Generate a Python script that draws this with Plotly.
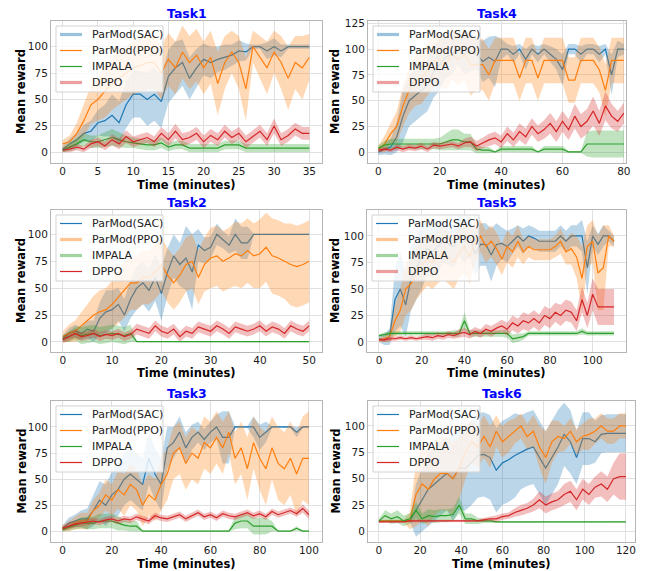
import plotly.graph_objects as go

W, H = 645, 571
SERIES = ["ParMod(SAC)", "ParMod(PPO)", "IMPALA", "DPPO"]
COLORS = ["#1f77b4", "#ff7f0e", "#2ca02c", "#d62728"]
FILLS = ["rgba(31,119,180,0.3)", "rgba(255,127,14,0.3)", "rgba(44,160,44,0.3)", "rgba(214,39,40,0.3)"]
LEGFADE = ["rgba(31,119,180,0.45)", "rgba(255,127,14,0.45)", "rgba(44,160,44,0.45)", "rgba(214,39,40,0.45)"]

# ---------------- Task1 ----------------
T1_X = list(range(0, 36))
T1_SAC = [3,8,12,18,20,28,30,35,28,45,55,55,50,55,48,72,80,85,70,80,88,85,88,90,92,96,95,100,100,96,100,96,100,100,100,100]
T1_SAC_S = [3,5,6,8,10,12,15,20,20,22,22,22,25,25,25,25,25,22,20,18,15,15,12,12,10,10,8,2,2,8,8,6,2,2,2,2]
T1_PPO = [8,10,18,30,45,50,58,65,70,75,80,82,85,85,75,88,80,95,85,92,80,90,65,85,95,85,60,100,90,80,95,85,70,85,80,90]
T1_PPO_S = [4,6,10,15,18,20,25,25,25,25,25,25,25,25,25,25,25,25,25,25,25,25,30,25,20,25,30,15,20,25,20,25,30,25,30,22]
T1_IMP = [2,5,8,12,10,10,12,14,12,10,9,8,7,7,9,5,7,7,4,4,4,4,4,7,7,7,4,4,4,4,4,4,4,4,4,4]
T1_IMP_S = [2,4,5,6,6,6,7,8,7,6,5,5,5,5,5,4,4,4,4,4,4,4,4,4,4,4,4,4,4,4,4,4,4,4,4,4]
T1_DPPO = [2,3,5,3,8,10,6,12,8,15,10,12,14,10,18,12,20,12,14,18,10,16,12,20,14,18,10,15,20,12,25,12,16,22,18,18]
T1_DPPO_S = [2,3,3,3,4,4,4,5,5,6,5,5,5,5,6,6,7,6,6,6,6,6,6,6,6,6,6,6,6,6,7,6,6,6,6,6]

# ---------------- Task2 ----------------
T2_X = [i * 1.25 for i in range(41)]
T2_SAC = [3,8,10,8,12,10,22,28,30,35,25,40,50,55,48,60,45,65,80,72,78,65,90,85,88,100,95,90,100,92,92,100,100,100,100,100,100,100,100,100,100]
T2_SAC_S = [3,5,6,6,8,10,15,20,18,15,15,18,20,20,20,22,25,22,20,20,30,35,15,12,10,10,8,8,15,15,15,0.5,0.5,0.5,0.5,0.5,0.5,0.5,0.5,0.5,0.5]
T2_PPO = [5,8,10,15,20,25,28,30,35,42,48,55,55,60,60,65,72,62,55,62,72,75,60,72,78,80,75,78,82,80,85,80,82,88,80,78,75,72,70,72,75]
T2_PPO_S = [5,8,10,12,15,18,20,20,22,25,25,25,25,25,25,25,25,25,25,25,25,25,25,25,28,28,28,28,30,30,30,30,32,32,35,35,35,38,38,38,38]
T2_IMP = [3,5,8,6,7,8,6,7,8,7,6,8,0.3,0.3,0.3,0.3,0.3,0.3,0.3,0.3,0.3,0.3,0.3,0.3,0.3,0.3,0.3,0.3,0.3,0.3,0.3,0.3,0.3,0.3,0.3,0.3,0.3,0.3,0.3,0.3,0.3]
T2_IMP_S = [3,5,6,8,8,8,8,8,8,8,8,8,0.5,0.5,0.5,0.5,0.5,0.5,0.5,0.5,0.5,0.5,0.5,0.5,0.5,0.5,0.5,0.5,0.5,0.5,0.5,0.5,0.5,0.5,0.5,0.5,0.5,0.5,0.5,0.5,0.5]
T2_DPPO = [2,5,8,5,6,8,5,7,6,8,5,7,12,10,8,15,10,8,12,5,10,8,14,12,10,15,12,8,14,12,10,12,15,10,14,12,8,15,12,10,15]
T2_DPPO_S = [3,4,4,4,4,4,4,4,4,4,4,4,5,5,5,5,5,5,5,5,5,5,5,5,5,5,5,5,5,5,5,5,5,5,5,5,5,5,5,5,5]

# ---------------- Task3 ----------------
T3_X = [i * 2.5 for i in range(41)]
T3_SAC = [3,8,10,12,12,20,30,25,35,40,50,55,50,45,70,55,45,80,85,95,80,90,95,88,95,100,90,90,100,100,100,100,90,95,100,100,100,100,95,100,100]
T3_SAC_S = [3,5,6,8,10,15,18,20,22,25,25,25,25,25,25,25,25,20,15,15,15,12,10,10,10,12,25,25,1,1,1,10,12,10,1,1,1,1,5,1,1]
T3_PPO = [3,5,8,10,10,20,25,35,30,40,35,45,40,25,35,30,45,55,75,80,65,75,70,85,80,90,80,95,70,80,60,85,70,60,80,65,60,70,55,70,70]
T3_PPO_S = [3,5,6,8,8,10,12,15,15,18,20,20,20,20,20,20,25,25,25,25,25,25,25,25,25,25,25,20,25,25,30,25,30,35,30,35,35,35,40,40,45]
T3_IMP = [2,4,6,8,8,8,10,10,10,8,6,5,5,0.3,0.3,0.3,0.3,0.3,0.3,0.3,0.3,0.3,0.3,0.3,0.3,0.3,0.3,0.3,8,10,10,5,5,5,5,0.3,0.3,0.3,3,0.3,0.3]
T3_IMP_S = [2,3,4,5,6,6,7,7,7,7,5,5,5,0.5,0.5,0.5,0.5,0.5,0.5,0.5,0.5,0.5,0.5,0.5,0.5,0.5,0.5,0.5,6,7,7,8,8,8,5,0.5,0.5,0.5,2,0.5,0.5]
T3_DPPO = [3,5,7,8,9,10,9,11,12,10,12,11,14,12,10,15,13,12,14,16,12,15,18,14,16,13,17,15,14,16,18,15,17,14,19,16,18,20,17,22,16]
T3_DPPO_S = [2,3,3,3,3,3,3,3,3,3,3,3,3,3,3,3,3,3,3,3,3,3,3,3,3,3,3,3,3,3,3,3,3,3,3,3,3,3,3,4,4]

# ---------------- Task4 ----------------
T4_X = [i * 2 for i in range(41)]
T4_SAC = [0,3,5,15,35,50,55,60,65,78,85,92,95,100,95,98,95,88,92,88,100,100,95,100,90,100,95,100,95,90,80,100,100,95,100,100,95,100,75,100,100]
T4_SAC_S = [3,5,8,15,25,25,25,25,25,25,25,20,20,15,20,20,15,20,20,25,10,5,8,5,10,5,8,5,8,10,15,5,5,8,5,5,8,5,20,8,5]
T4_PPO = [3,8,18,25,45,60,70,72,80,88,90,85,95,90,95,85,85,85,75,89,89,89,89,72,89,89,72,89,89,89,89,70,70,89,89,89,80,60,89,89,89]
T4_PPO_S = [3,8,10,15,20,22,25,25,25,25,25,25,25,25,25,30,25,25,25,22,22,22,22,22,22,22,22,22,22,22,22,22,22,22,22,22,22,25,22,22,22]
T4_IMP = [4,7,8,8,8,8,8,8,8,8,8,10,12,12,10,10,3,2,2,0.3,3,3,3,3,3,3,0.3,3,3,3,3,0.3,0.3,0.3,8,8,8,8,8,8,8]
T4_IMP_S = [3,4,5,5,5,5,5,5,5,5,6,8,10,10,8,8,4,3,3,1,3,3,3,3,3,3,1,3,3,3,3,1,1,1,12,13,13,13,13,13,13]
T4_DPPO = [2,3,2,5,3,5,4,6,3,7,6,7,8,6,9,10,6,9,12,14,10,18,12,20,15,25,18,22,28,20,30,22,35,25,30,40,28,45,35,30,38]
T4_DPPO_S = [2,2,2,3,3,3,3,3,3,3,3,3,3,3,4,5,5,5,6,6,6,7,7,8,8,8,8,9,10,10,10,10,12,12,12,14,12,14,12,10,10]

# ---------------- Task5 ----------------
T5_X = [i * 2.5 for i in range(45)]
T5_SAC = [3,2,5,40,50,35,60,70,80,88,85,90,95,92,90,100,95,100,83,92,92,82,92,93,90,95,100,95,100,98,95,95,95,95,100,95,100,100,100,70,100,92,100,100,95]
T5_SAC_S = [3,5,8,30,35,30,30,30,30,25,25,25,20,20,20,20,20,20,20,20,20,25,20,15,15,12,10,12,10,10,10,10,10,10,10,10,10,10,15,25,10,10,10,5,5]
T5_PPO = [2,3,5,20,30,50,55,65,72,78,75,80,85,80,75,85,90,80,95,100,90,95,88,78,90,85,95,85,90,87,87,87,87,90,95,85,88,80,60,90,95,65,70,100,95]
T5_PPO_S = [2,3,5,15,20,25,25,25,25,25,25,25,25,25,25,25,25,25,20,15,15,15,15,15,15,15,15,12,10,10,10,10,10,10,12,12,15,20,30,20,20,35,40,10,5]
T5_IMP = [6,7,8,8,8,8,8,8,8,8,8,8,8,8,8,8,20,8,8,8,8,8,8,8,8,3,4,5,8,8,8,8,8,8,8,8,8,8,10,8,8,8,8,8,8]
T5_IMP_S = [1,2,2,2,2,2,2,2,2,2,2,2,2,2,3,3,8,3,3,3,3,3,3,3,4,4,4,3,2,2,2,2,2,2,2,2,2,2,3,2,2,2,2,2,2]
T5_DPPO = [2,2,3,3,4,3,4,3,4,5,4,6,5,7,6,8,9,7,10,8,12,10,13,15,12,18,15,20,18,22,18,25,22,28,25,30,28,20,40,25,45,33,33,33,33]
T5_DPPO_S = [1,2,2,2,2,2,2,2,2,3,3,3,3,3,3,4,4,4,4,4,5,5,5,6,6,7,7,8,8,8,8,9,9,9,10,10,10,10,12,12,15,17,17,17,17]

# ---------------- Task6 ----------------
T6_X = [i * 3 for i in range(41)]
T6_SAC = [10,10,10,10,10,10,20,30,40,45,50,55,50,60,60,65,72,73,70,58,65,68,72,75,78,80,70,60,70,80,92,85,70,88,88,85,92,93,93,93,93]
T6_SAC_S = [0.5,0.5,0.5,0.5,0.5,0.5,25,30,35,35,35,35,40,40,40,40,40,40,40,40,40,40,40,35,35,35,35,35,35,35,30,30,25,25,25,20,18,18,18,18,18]
T6_PPO = [10,10,10,10,10,10,35,45,40,50,55,55,50,60,75,85,80,90,80,95,85,90,95,100,90,95,80,70,85,90,88,95,85,90,92,95,100,95,95,100,100]
T6_PPO_S = [1,1,1,1,1,8,30,35,35,35,35,35,35,30,25,20,20,20,20,15,15,15,12,12,12,15,20,25,20,15,12,12,12,12,15,12,12,12,12,12,12]
T6_IMP = [10,15,12,14,10,12,20,12,15,14,15,15,16,25,12,12,10,10,10,9,9,9,9,9,9,9,9,9,9,9,9,9,9,9,9,9,9,9,9,9,9]
T6_IMP_S = [2,5,5,6,5,5,8,5,6,6,6,6,6,8,5,5,3,2,2,1,0.5,0.5,0.5,0.5,0.5,0.5,0.5,0.5,0.5,0.5,0.5,0.5,0.5,0.5,0.5,0.5,0.5,0.5,0.5,0.5,0.5]
T6_DPPO = [9,9,9,9,9,10,10,10,10,10,10,10,10,10,10,10,10,11,12,12,14,15,18,20,22,25,30,25,28,30,35,38,30,40,35,42,45,40,50,52,52]
T6_DPPO_S = [0.5,0.5,0.5,0.5,0.5,1,1,1,1,1,1,1,1,1,1,1,1,2,2,3,3,3,4,5,5,6,8,8,8,8,10,10,10,10,10,10,12,12,15,22,22]

TASKS = [
    ("Task1", T1_X, [(T1_SAC, T1_SAC_S), (T1_PPO, T1_PPO_S), (T1_IMP, T1_IMP_S), (T1_DPPO, T1_DPPO_S)]),
    ("Task4", T4_X, [(T4_SAC, T4_SAC_S), (T4_PPO, T4_PPO_S), (T4_IMP, T4_IMP_S), (T4_DPPO, T4_DPPO_S)]),
    ("Task2", T2_X, [(T2_SAC, T2_SAC_S), (T2_PPO, T2_PPO_S), (T2_IMP, T2_IMP_S), (T2_DPPO, T2_DPPO_S)]),
    ("Task5", T5_X, [(T5_SAC, T5_SAC_S), (T5_PPO, T5_PPO_S), (T5_IMP, T5_IMP_S), (T5_DPPO, T5_DPPO_S)]),
    ("Task3", T3_X, [(T3_SAC, T3_SAC_S), (T3_PPO, T3_PPO_S), (T3_IMP, T3_IMP_S), (T3_DPPO, T3_DPPO_S)]),
    ("Task6", T6_X, [(T6_SAC, T6_SAC_S), (T6_PPO, T6_PPO_S), (T6_IMP, T6_IMP_S), (T6_DPPO, T6_DPPO_S)]),
]

# layout (pixel boxes: left, right, top, bottom) and axis ranges
BOXES = [(51, 322, 21, 163), (368, 626, 21, 163),
         (51, 322, 210, 352), (367, 626, 210, 352),
         (51, 322, 401, 542), (368, 635, 401, 542)]
XR = [[-1.66, 36.8], [-3.4, 80.7], [-2.4, 52.6], [-5.6, 115.6], [-4.7, 105.3], [-5.3, 124.4]]
YR = [[-10.1, 124.3], [-10.4, 127.2], [-9.3, 122.6], [-9.5, 124.5], [-10.1, 124.8], [-10, 123.6]]
XT = [[0, 5, 10, 15, 20, 25, 30, 35], [0, 20, 40, 60, 80], [0, 10, 20, 30, 40, 50],
      [0, 20, 40, 60, 80, 100], [0, 20, 40, 60, 80, 100], [0, 20, 40, 60, 80, 100, 120]]
YT = [0, 25, 50, 75, 100, 125]
THICK = [[1, 0, 0, 1], [1, 0, 0, 1], [0, 1, 1, 0], [0, 1, 1, 1], [0, 0, 0, 0], [0, 0, 0, 0]]

fig = go.Figure()
layout = dict(width=W, height=H, margin=dict(l=0, r=0, t=0, b=0), template="none",
              plot_bgcolor="white", paper_bgcolor="white", annotations=[], shapes=[],
              showlegend=False)

FONT = "DejaVu Sans"


def px(xp):
    return xp / W


def py(yp):
    return 1 - yp / H


for p, (name, X, series) in enumerate(TASKS):
    l, r, t, b = BOXES[p]
    xa = "x" if p == 0 else f"x{p+1}"
    ya = "y" if p == 0 else f"y{p+1}"
    for k, (m, s) in enumerate(series):
        hi = [a + c for a, c in zip(m, s)]
        lo = [a - c for a, c in zip(m, s)]
        fig.add_trace(go.Scatter(x=X, y=hi, mode="lines", line=dict(width=0, color=COLORS[k]),
                                 showlegend=False, hoverinfo="skip", xaxis=xa, yaxis=ya))
        fig.add_trace(go.Scatter(x=X, y=lo, mode="lines", line=dict(width=0, color=COLORS[k]),
                                 fill="tonexty", fillcolor=FILLS[k],
                                 showlegend=False, hoverinfo="skip", xaxis=xa, yaxis=ya))
        fig.add_trace(go.Scatter(x=X, y=m, mode="lines", line=dict(width=1.2, color=COLORS[k]),
                                 name=SERIES[k], showlegend=False, xaxis=xa, yaxis=ya))
    axkey = "xaxis" if p == 0 else f"xaxis{p+1}"
    aykey = "yaxis" if p == 0 else f"yaxis{p+1}"
    common = dict(showgrid=True, gridcolor="#e0e0e0", gridwidth=1, zeroline=False,
                  showline=True, mirror=True, linecolor="#b5b5b5", linewidth=1,
                  ticks="", automargin=False,
                  tickfont=dict(family=FONT, size=10.5, color="#1a1a1a"))
    layout[axkey] = dict(domain=[l / W, r / W], range=XR[p], anchor=ya, tickvals=XT[p],
                         ticklabelstandoff=-2, **common)
    layout[aykey] = dict(domain=[1 - b / H, 1 - t / H], range=YR[p], anchor=xa, tickvals=YT, **common)

    # custom legend box (matplotlib style)
    lx, ty = l + 5, t + 5
    bw, bh = 107, 66
    layout["shapes"].append(dict(type="rect", xref="paper", yref="paper",
                                 x0=px(lx), x1=px(lx + bw), y0=py(ty + bh), y1=py(ty),
                                 fillcolor="rgba(255,255,255,0.8)",
                                 line=dict(color="#d3d3d3", width=1), layer="above"))
    for k in range(4):
        ry = ty + 8.5 + 16 * k
        thick = THICK[p][k]
        layout["shapes"].append(dict(type="line", xref="paper", yref="paper",
                                     x0=px(lx + 4), x1=px(lx + 26), y0=py(ry), y1=py(ry),
                                     line=dict(color=LEGFADE[k] if thick else COLORS[k],
                                               width=3.2 if thick else 1.2),
                                     layer="above"))
        layout["annotations"].append(dict(text=SERIES[k], x=px(lx + 34), y=py(ry),
                                          xref="paper", yref="paper", showarrow=False,
                                          xanchor="left", yanchor="middle",
                                          font=dict(family=FONT, size=11, color="#222")))

    cx = (l + r) / 2
    layout["annotations"].append(dict(text=f"<b>{name}</b>", x=px(cx), y=py(t - 7.5),
                                      xref="paper", yref="paper", showarrow=False,
                                      font=dict(family=FONT, size=12.5, color="#0000ff"),
                                      xanchor="center", yanchor="middle"))
    layout["annotations"].append(dict(text="<b>Time (minutes)</b>", x=px(cx), y=py(b + 21.5),
                                      xref="paper", yref="paper", showarrow=False,
                                      font=dict(family=FONT, size=11.5, color="black"),
                                      xanchor="center", yanchor="middle"))
    ylx = 21 if l < 100 else 335
    layout["annotations"].append(dict(text="<b>Mean reward</b>", x=px(ylx), y=py((t + b) / 2),
                                      xref="paper", yref="paper", showarrow=False, textangle=-90,
                                      font=dict(family=FONT, size=11.5, color="black"),
                                      xanchor="center", yanchor="middle"))

fig.update_layout(**layout)
fig.write_html("out.html")
